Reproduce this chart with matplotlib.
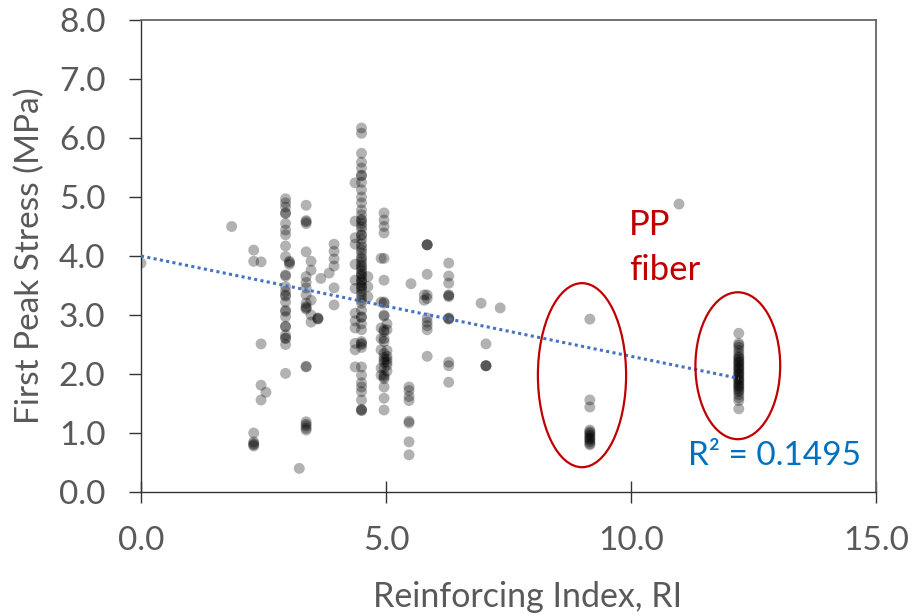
import matplotlib
matplotlib.use("Agg")
import matplotlib.pyplot as plt
from matplotlib.patches import Ellipse
import numpy as np

plt.rcParams['font.family'] = ['Lato', 'DejaVu Sans']

# ---- data: reinforcing index columns and the first-peak stresses at each ----
ri_columns = [0.0, 1.85, 2.3, 2.45, 2.55, 2.95, 3.03, 3.23, 3.37, 3.47, 3.61, 3.67,
              3.84, 3.94, 4.37, 4.5, 4.63, 4.90, 4.96, 5.02, 5.47, 5.51, 5.78, 5.84,
              6.28, 6.94, 7.04, 7.33, 9.16, 10.98, 12.2]
stress_columns = [
    [3.88],
    [4.50],
    [4.10, 3.91, 1.0, 0.85, 0.82, 0.80, 0.78],
    [3.90, 2.51, 1.81, 1.56],
    [1.69],
    [4.97, 4.90, 4.83, 4.73, 4.72, 4.55, 4.44, 4.36, 4.17, 3.99, 3.68, 3.66, 3.48,
     3.40, 3.34, 3.32, 3.22, 3.08, 3.06, 2.97, 2.81, 2.80, 2.66, 2.61, 2.60, 2.50, 2.01],
    [3.91, 3.89, 3.86],
    [0.40],
    [4.86, 4.60, 4.58, 4.55, 4.07, 3.65, 3.55, 3.46, 3.34, 3.20, 3.14, 3.12, 3.10,
     2.13, 2.12, 1.19, 1.15, 1.12, 1.08, 1.05],
    [3.91, 3.76, 3.25, 3.0, 2.88],
    [2.95, 2.94, 2.93],
    [3.62],
    [3.71],
    [4.20, 4.08, 3.95, 3.83, 3.46, 3.17],
    [5.24, 4.59, 4.31, 4.20, 3.86, 3.59, 3.45, 3.03, 2.90, 2.78, 2.52, 2.41, 2.12],
    [6.17, 6.08, 5.74, 5.59, 5.49, 5.37, 5.36, 5.25, 5.12, 5.0, 4.9, 4.78, 4.7, 4.62,
     4.6, 4.55, 4.5, 4.45, 4.36, 4.35, 4.28, 4.2, 4.15, 4.1, 4.05, 3.98, 3.95, 3.9,
     3.85, 3.82, 3.78, 3.75, 3.7, 3.68, 3.65, 3.6, 3.58, 3.55, 3.5, 3.48, 3.45, 3.4,
     3.35, 3.3, 3.25, 3.2, 3.08, 2.97, 2.96, 2.85, 2.75, 2.55, 2.52, 2.5, 2.45,
     2.12, 1.98, 1.85, 1.78, 1.70, 1.56, 1.40, 1.39, 1.38],
    [3.65, 3.48, 3.31],
    [3.96, 3.22, 2.78, 2.60, 2.41, 2.10, 1.98],
    [4.73, 4.61, 4.50, 4.39, 3.96, 3.59, 3.22, 3.20, 3.0, 2.98, 2.75, 2.72, 2.60,
     2.55, 2.35, 2.28, 2.24, 2.20, 2.10, 1.98, 1.95, 1.92, 1.78, 1.59, 1.39],
    [2.85, 2.75, 2.40, 2.30, 2.25, 2.20, 2.15, 2.05],
    [1.78, 1.72, 1.62, 1.55, 1.20, 1.17, 0.85, 0.63],
    [3.53],
    [3.34, 3.25],
    [4.19, 4.19, 4.19, 3.69, 3.34, 3.28, 2.95, 2.88, 2.82, 2.75, 2.30],
    [3.88, 3.66, 3.54, 3.34, 3.33, 3.31, 2.95, 2.94, 2.93, 2.20, 2.14, 1.86],
    [3.20],
    [2.51, 2.14, 2.14, 2.14],
    [3.12],
    [2.93, 1.56, 1.44, 1.05, 1.02, 1.0, 0.97, 0.95, 0.92, 0.90, 0.88, 0.85, 0.82, 0.80],
    [4.88],
    [2.69, 2.52, 2.49, 2.45, 2.40, 2.35, 2.30, 2.28, 2.25, 2.22, 2.20, 2.18, 2.15,
     2.12, 2.10, 2.08, 2.05, 2.02, 2.0, 1.98, 1.95, 1.92, 1.90, 1.88, 1.85, 1.82,
     1.80, 1.78, 1.75, 1.72, 1.70, 1.65, 1.60, 1.55, 1.41],
]
trend_intercept = 4.0
trend_slope = -0.17
r2_label = "R² = 0.1495"
pp_lines = ["PP", "fiber"]
x_ticks = [0, 5, 10, 15]
y_ticks = [0, 1, 2, 3, 4, 5, 6, 7, 8]

ri = np.concatenate([[x] * len(ys) for x, ys in zip(ri_columns, stress_columns)])
stress = np.concatenate(stress_columns)

W, H = 913, 615
fig = plt.figure(figsize=(W / 100, H / 100), dpi=100)
ax = fig.add_axes([141 / W, 1 - 492 / H, (876 - 141) / W, (492 - 20) / H])

ax.scatter(ri, stress, s=62, color='black', alpha=0.3, edgecolors='none', zorder=3)

xt = np.array([0, ri.max()])
ax.plot(xt, trend_intercept + trend_slope * xt, color='#4472C4', lw=2.2,
        linestyle=(0, (1, 1.1)), zorder=4)

ax.add_patch(Ellipse((9.0, 1.98), 1.80, 3.12, fill=False, edgecolor='#C00000', lw=1.6, zorder=5))
ax.add_patch(Ellipse((12.18, 2.14), 1.73, 2.49, fill=False, edgecolor='#C00000', lw=1.6, zorder=5))

ax.text(9.96, 4.36, pp_lines[0], color='#C00000', fontsize=25, va='baseline', ha='left')
ax.text(9.96, 3.59, pp_lines[1], color='#C00000', fontsize=25, va='baseline', ha='left')
ax.text(11.16, 0.46, r2_label, color='#0070C0', fontsize=24, va='baseline', ha='left')

ax.set_xlim(0, 15)
ax.set_ylim(0, 8)
ax.set_xticks(x_ticks)
ax.set_yticks(y_ticks)
ax.set_xticklabels([f"{v:.1f}" for v in x_ticks])
ax.set_yticklabels([f"{v:.1f}" for v in y_ticks])

text_col = '#595959'
ax.tick_params(axis='x', direction='inout', length=16.5, width=1.0, color='#333333',
               labelsize=24, labelcolor=text_col, pad=16)
ax.tick_params(axis='y', direction='out', length=8.6, width=1.0, color='#333333',
               labelsize=24, labelcolor=text_col, pad=17)
for s in ['left', 'bottom']:
    ax.spines[s].set_color('#333333')
    ax.spines[s].set_linewidth(1.0)
for s in ['top', 'right']:
    ax.spines[s].set_color('#666666')
    ax.spines[s].set_linewidth(1.3)

ax.set_xlabel("Reinforcing Index, RI", fontsize=24.5, color=text_col)
ax.set_ylabel("First Peak Stress (MPa)", fontsize=24, color=text_col)
ax.xaxis.set_label_coords((528 - 141) / (876 - 141), -(597 - 492) / (492 - 20))
ax.yaxis.set_label_coords(-(141 - 30) / (876 - 141), 0.5)
ax.xaxis.label.set_va('center')
ax.yaxis.label.set_va('center')

fig.savefig("out.png", dpi=100)
